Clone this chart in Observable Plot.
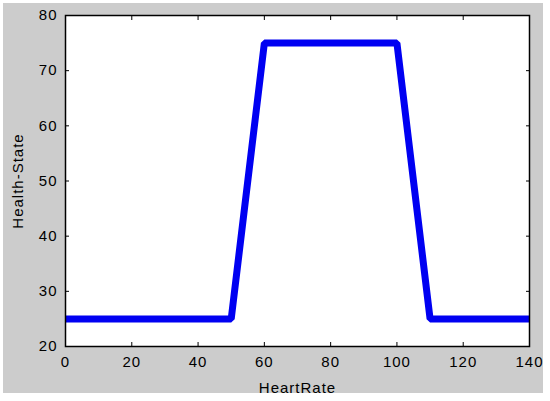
<!DOCTYPE html>
<html>
<head>
<meta charset="utf-8">
<script src="https://cdn.jsdelivr.net/npm/d3@7"></script>
<script src="https://cdn.jsdelivr.net/npm/@observablehq/plot@0.6"></script>
<style>
  html, body { margin: 0; padding: 0; background: #ffffff; }
  svg text { letter-spacing: 1px; }
</style>
</head>
<body>
<div id="chart"></div>
<script>
const heartRate = [0, 50, 60, 100, 110, 140];
const healthState = [25, 25, 75, 75, 25, 25];
const xTicks = [0, 20, 40, 60, 80, 100, 120, 140];
const yTicks = [20, 30, 40, 50, 60, 70, 80];

const data = heartRate.map((x, i) => ({x, y: healthState[i]}));

const chart = Plot.plot({
  width: 550,
  height: 401,
  marginLeft: 65,
  marginRight: 21,
  marginTop: 15,
  marginBottom: 55,
  style: {
    fontFamily: "'Liberation Sans', Arial, sans-serif",
    fontSize: "15px",
    color: "#000",
    background: "linear-gradient(#cccccc,#cccccc) 3px 3px / 540px 390px no-repeat, #ffffff"
  },
  x: {domain: [0, 140]},
  y: {domain: [20, 80]},
  marks: [
    Plot.frame({fill: "#ffffff", stroke: "none"}),
    Plot.line(data, {x: "x", y: "y", stroke: "#0000f2", strokeWidth: 7, strokeLinecap: "butt", strokeLinejoin: "miter"}),
    Plot.axisX(xTicks, {anchor: "bottom", tickSize: 0, tickPadding: 10, fontSize: 15, label: "HeartRate", labelAnchor: "center", labelOffset: 46, labelArrow: "none"}),
    Plot.axisX(xTicks, {anchor: "bottom", tickSize: 4, dy: -4, text: null, label: null}),
    Plot.axisX(xTicks, {anchor: "top", tickSize: 4, dy: 4, text: null, label: null}),
    Plot.axisY(yTicks, {anchor: "left", tickSize: 0, tickPadding: 8, fontSize: 15, label: "Health-State", labelAnchor: "center", labelOffset: 53, labelArrow: "none"}),
    Plot.axisY(yTicks, {anchor: "left", tickSize: 4, dx: 4, text: null, label: null}),
    Plot.axisY(yTicks, {anchor: "right", tickSize: 4, dx: -4, text: null, label: null}),
    Plot.frame({stroke: "#000", strokeWidth: 1.5})
  ]
});
document.getElementById("chart").appendChild(chart);
</script>
</body>
</html>
